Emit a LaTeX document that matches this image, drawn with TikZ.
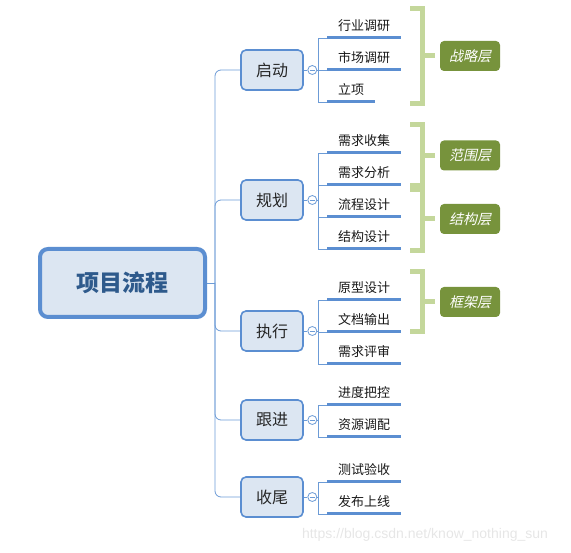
\documentclass[tikz,border=0pt]{standalone}
\usepackage{fontspec}
\usepackage{xcolor}
\setmainfont{Noto Sans CJK SC}
\newfontfamily\cjkslant[FakeSlant=0.22]{Noto Sans CJK SC}
\newfontfamily\wmfont{Liberation Sans}
\definecolor{MMBlue}{HTML}{5B8ED1}
\definecolor{MMFill}{HTML}{DCE6F2}
\definecolor{MMLine}{HTML}{6C9BD6}
\definecolor{MMText}{HTML}{2E5A8C}
\definecolor{MMGreen}{HTML}{77933C}
\definecolor{MMBrace}{HTML}{C4D79B}
\definecolor{MMMark}{HTML}{E6E6E6}
\tikzset{
  rootbox/.style={draw=MMBlue,line width=4pt,fill=MMFill,rounded corners=8pt,
    minimum width=165pt,minimum height=68pt,text=MMText,
    font=\fontsize{23}{26}\selectfont\bfseries},
  childbox/.style={draw=MMBlue,line width=1.6pt,fill=MMFill,rounded corners=5pt,
    minimum width=62pt,minimum height=40pt,text=black!85,
    font=\fontsize{16}{18}\selectfont},
  toggle/.style={circle,draw=MMLine,fill=white,line width=.8pt,minimum size=9pt,inner sep=0pt,
    path picture={\draw[MMLine,line width=.7pt] ([xshift=-2.4pt]path picture bounding box.center)
      -- ([xshift=2.4pt]path picture bounding box.center);}},
  leaf/.style={anchor=south west,inner xsep=11pt,inner ysep=6pt,outer sep=0pt,
    text=black!90,font=\fontsize{13}{15}\selectfont},
  leafline/.style={MMBlue,line width=3pt},
  conn/.style={MMLine,line width=.8pt},
  brace/.style={MMBrace,line width=5pt,line join=miter},
  layerbox/.style={fill=MMGreen,rounded corners=4pt,minimum width=60pt,minimum height=30pt,
    text=white,font=\cjkslant\fontsize{14}{16}\selectfont}
}
\begin{document}
\begin{tikzpicture}[x=1pt,y=-1pt]
\path[use as bounding box] (0,0) rectangle (571,553);
% root and stages
\node[rootbox] (root) at (122.5,283) {项目流程};
\node[childbox] (qidong) at (272,70) {启动};
\node[childbox] (guihua) at (272,200) {规划};
\node[childbox] (zhixing) at (272,331) {执行};
\node[childbox] (genjin) at (272,420) {跟进};
\node[childbox] (shouwei) at (272,497) {收尾};
\coordinate (trunk) at ([xshift=8pt]root.east);
\draw[conn] (root.east) -- (trunk);
\foreach \c in {qidong,guihua,zhixing,genjin,shouwei}
  \draw[conn,rounded corners=6pt] (trunk) |- (\c.west);
% toggles
\foreach \c/\t in {qidong/tqd,guihua/tgh,zhixing/tzx,genjin/tgj,shouwei/tsw}{
  \node[toggle] (\t) at ([xshift=8.5pt]\c.east) {};
  \draw[conn] (\c.east) -- (\t.west);
  \coordinate (b\t) at ([xshift=1pt]\t.east);
  \draw[conn] (\t.east) -- (b\t);
}
% leaves
\foreach \n/\y/\t in {hyty/38/行业调研,scdy/70/市场调研,lx/102/立项,
    xqsj/153/需求收集,xqfx/185/需求分析,lcsj/217/流程设计,jgsj/249/结构设计,
    yxsj/300/原型设计,wdsc/332/文档输出,xqps/364/需求评审,
    jdbk/405/进度把控,zydp/437/资源调配,
    csys/482/测试验收,fbsx/514/发布上线}{
  \node[leaf] (\n) at (327,\y) {\t};
}
\foreach \n in {hyty,scdy,lx} \draw[conn] (btqd) |- (\n.south west);
\foreach \n in {xqsj,xqfx,lcsj,jgsj} \draw[conn] (btgh) |- (\n.south west);
\foreach \n in {yxsj,wdsc,xqps} \draw[conn] (btzx) |- (\n.south west);
\foreach \n in {jdbk,zydp} \draw[conn] (btgj) |- (\n.south west);
\foreach \n in {csys,fbsx} \draw[conn] (btsw) |- (\n.south west);
\foreach \n in {hyty,scdy,lx,xqsj,xqfx,lcsj,jgsj,yxsj,wdsc,xqps,jdbk,zydp,csys,fbsx}
  \draw[leafline] (\n.south west) -- (\n.south east);
% layers
\foreach \l/\top/\bot/\mid/\t in {zhanlue/9/104/56/战略层,fanwei/125/186/155.5/范围层,
    jiegou/190/251/219/结构层,kuangjia/272/332/302/框架层}{
  \draw[brace] (410,\top) -- (422.5,\top) -- (422.5,\bot) -- (410,\bot);
  \coordinate (m\l) at (422.5,\mid);
  \node[layerbox] (\l) at (470,\mid) {\t};
  \draw[brace,shorten >=5pt] (m\l) -- (\l.west);
}
\node[text=MMMark,font=\wmfont\fontsize{14}{16}\selectfont] (mark) at (425,535) {https://blog.csdn.net/know\_nothing\_sun};
\end{tikzpicture}
\end{document}
